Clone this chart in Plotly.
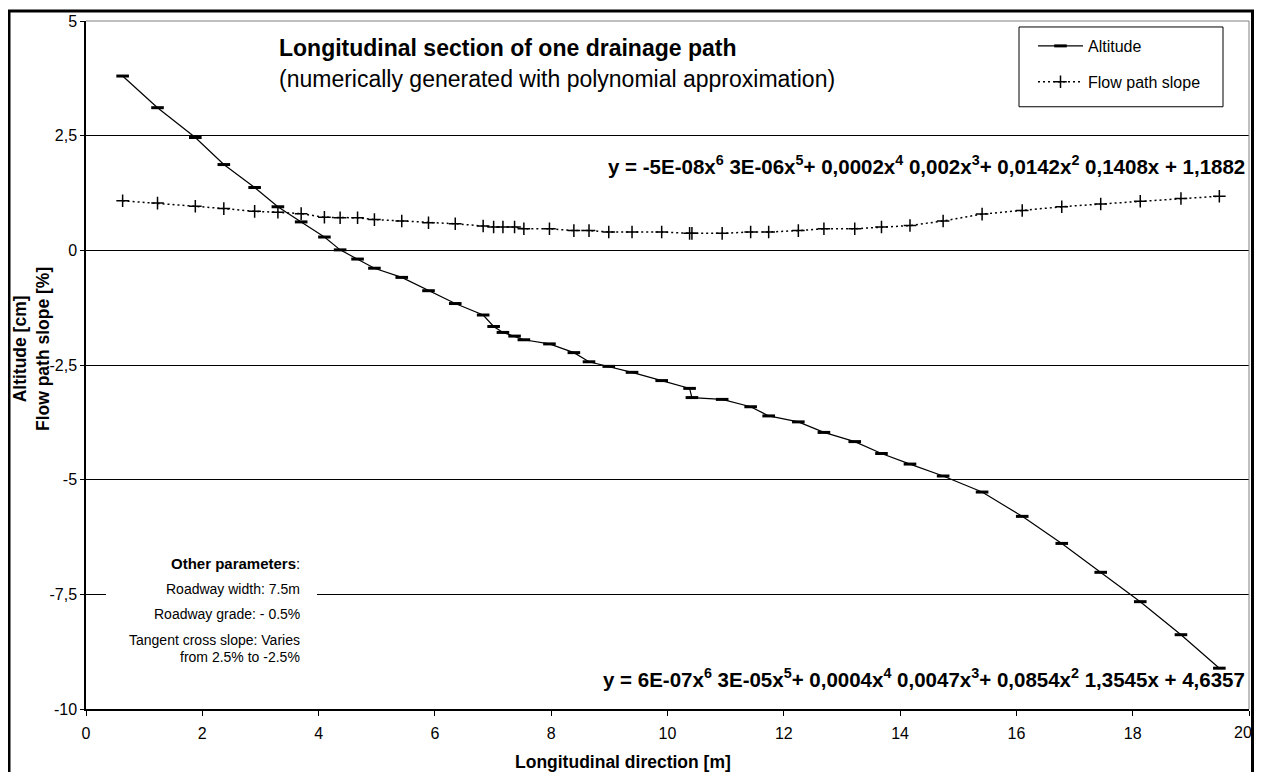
import plotly.graph_objects as go

# distance along the path [m]
distance = [0.63, 1.23, 1.88, 2.37, 2.90, 3.30, 3.70, 4.10, 4.37, 4.67, 4.96,
            5.43, 5.89, 6.35, 6.83, 7.01, 7.17, 7.37, 7.53, 7.97, 8.39, 8.65,
            8.99, 9.39, 9.90, 10.38, 10.42, 10.94, 11.43, 11.74, 12.25, 12.69,
            13.22, 13.68, 14.17, 14.74, 15.41, 16.10, 16.78, 17.45, 18.13,
            18.83, 19.49]

# altitude [cm]
altitude = [3.80, 3.11, 2.46, 1.87, 1.37, 0.95, 0.62, 0.29, 0.01, -0.19, -0.39,
            -0.59, -0.88, -1.16, -1.41, -1.66, -1.79, -1.87, -1.95, -2.04, -2.23,
            -2.43, -2.53, -2.66, -2.84, -3.01, -3.21, -3.25, -3.41, -3.61, -3.74,
            -3.97, -4.17, -4.43, -4.66, -4.92, -5.27, -5.80, -6.39, -7.02, -7.66,
            -8.38, -9.11]

# flow path slope [%]
flow_slope = [1.08, 1.03, 0.96, 0.91, 0.85, 0.83, 0.80, 0.72, 0.71, 0.71, 0.67,
              0.64, 0.60, 0.58, 0.53, 0.51, 0.51, 0.51, 0.47, 0.47, 0.43, 0.43,
              0.40, 0.40, 0.40, 0.37, 0.37, 0.37, 0.40, 0.40, 0.43, 0.47, 0.47,
              0.51, 0.54, 0.64, 0.79, 0.87, 0.95, 1.01, 1.07, 1.13, 1.18]

x_ticks = [0, 2, 4, 6, 8, 10, 12, 14, 16, 18, 20]
y_ticks = [5, 2.5, 0, -2.5, -5, -7.5, -10]
y_tick_labels = ["5", "2,5", "0", "-2,5", "-5", "-7,5", "-10"]

eq_slope = ("y = -5E-08x<sup>6</sup> 3E-06x<sup>5</sup>+ 0,0002x<sup>4</sup> "
            "0,002x<sup>3</sup>+ 0,0142x<sup>2</sup> 0,1408x + 1,1882")
eq_altitude = ("y = 6E-07x<sup>6</sup> 3E-05x<sup>5</sup>+ 0,0004x<sup>4</sup> "
               "0,0047x<sup>3</sup>+ 0,0854x<sup>2</sup> 1,3545x + 4,6357")

params = ["Roadway width: 7.5m", "Roadway grade: - 0.5%",
          "Tangent cross slope: Varies", "from 2.5% to -2.5%"]

# the page body has an 8px margin all round, so keep the figure inside the window
OFF = 8
W, H = 1262 - 2 * OFF, 780 - 2 * OFF
L, T = 86 - OFF, 19 - OFF
R = W - (1249 - OFF)
B = H - (709 - OFF)
FONT = "Liberation Sans, Arial, sans-serif"


def px(x):
    # screen x -> paper
    return (x - OFF - L) / (W - L - R)


def py(y):
    # screen y -> paper
    return (H - B - (y - OFF)) / (H - T - B)


fig = go.Figure()

fig.add_trace(go.Scatter(
    x=distance, y=altitude, name="Altitude", mode="lines+markers",
    legendgroup="a",
    line=dict(color="black", width=1.2),
    marker=dict(symbol="line-ew", size=9, line=dict(color="black", width=3)),
))
fig.add_trace(go.Scatter(
    x=distance, y=flow_slope, name="Flow path slope", mode="lines+markers",
    legendgroup="b",
    line=dict(color="black", width=1.5, dash="2px,3px"),
    marker=dict(symbol="cross-thin", size=9, line=dict(color="black", width=1.5)),
))

shapes = [
    # plot area border top/right (grey)
    dict(type="line", xref="paper", yref="paper", x0=0, x1=1, y0=1, y1=1,
         line=dict(color="#808080", width=1), layer="above"),
    dict(type="line", xref="paper", yref="paper", x0=1, x1=1, y0=0, y1=1,
         line=dict(color="#808080", width=1), layer="above"),
    # outer chart frame
    dict(type="rect", xref="paper", yref="paper",
         x0=px(9), x1=px(1252.5), y0=py(790), y1=py(9),
         line=dict(color="black", width=3)),
    # legend box
    dict(type="rect", xref="paper", yref="paper",
         x0=px(1019), x1=px(1223), y0=py(105), y1=py(25),
         line=dict(color="black", width=1), fillcolor="white", layer="above"),
    # white background of the parameter note
    dict(type="rect", xref="paper", yref="paper",
         x0=px(106), x1=px(317), y0=py(672), y1=py(548),
         line=dict(width=0), fillcolor="white", layer="above"),
]

annotations = [
    dict(text="<b>Longitudinal section of one drainage path</b>",
         x=px(277), y=py(46), xanchor="left", yanchor="middle",
         font=dict(size=23)),
    dict(text="(numerically generated with polynomial approximation)",
         x=px(277), y=py(77), xanchor="left", yanchor="middle",
         font=dict(size=23)),
    dict(text="<b>" + eq_slope + "</b>", x=px(1247), y=py(163),
         xanchor="right", yanchor="middle", font=dict(size=20.5)),
    dict(text="<b>" + eq_altitude + "</b>", x=px(1247), y=py(678),
         xanchor="right", yanchor="middle", font=dict(size=20.5)),
    dict(text="<b>Other parameters</b>:", x=px(302), y=py(563),
         xanchor="right", yanchor="middle", font=dict(size=15)),
    dict(text="<b>Longitudinal direction [m]</b>", x=px(623), y=py(762),
         xanchor="center", yanchor="middle", font=dict(size=17.5)),
    dict(text="<b>Altitude [cm]<br>Flow path slope [%]</b>", x=px(31), y=py(348),
         xanchor="center", yanchor="middle", textangle=-90,
         font=dict(size=17.5)),
    # last x tick label would run past the page edge; pin it just inside
    dict(text=str(x_ticks[-1]), x=px(1254), y=py(733), xanchor="right",
         yanchor="middle", font=dict(size=16)),
]
for text, yc in zip(params, [589, 614, 640, 657]):
    annotations.append(dict(text=text, x=px(302), y=py(yc), xanchor="right",
                            yanchor="middle", font=dict(size=14)))
for a in annotations:
    a.update(xref="paper", yref="paper", showarrow=False)
    a["font"].update(color="black", family=FONT)

fig.update_layout(
    width=W, height=H,
    margin=dict(l=L, r=R, t=T, b=B),
    paper_bgcolor="white", plot_bgcolor="white",
    font=dict(family=FONT, color="black", size=16),
    showlegend=True,
    legend=dict(x=px(1033), y=py(27), xanchor="left", yanchor="top",
                bgcolor="rgba(0,0,0,0)", borderwidth=0, itemwidth=45,
                tracegroupgap=12, font=dict(size=16)),
    xaxis=dict(range=[0, 20], tickvals=x_ticks, showgrid=False, zeroline=False,
               showline=True, linecolor="black", linewidth=1.5,
               ticks="outside", ticklen=5, tickcolor="black",
               ticklabelstandoff=4, tickfont=dict(size=16)),
    yaxis=dict(range=[-10, 5], tickvals=y_ticks, ticktext=y_tick_labels,
               showgrid=True, gridcolor="black", gridwidth=1, zeroline=False,
               showline=True, linecolor="black", linewidth=1.5,
               ticks="outside", ticklen=4, tickcolor="black",
               tickfont=dict(size=16)),
    shapes=shapes,
    annotations=annotations,
)

fig.write_html("out.html")
